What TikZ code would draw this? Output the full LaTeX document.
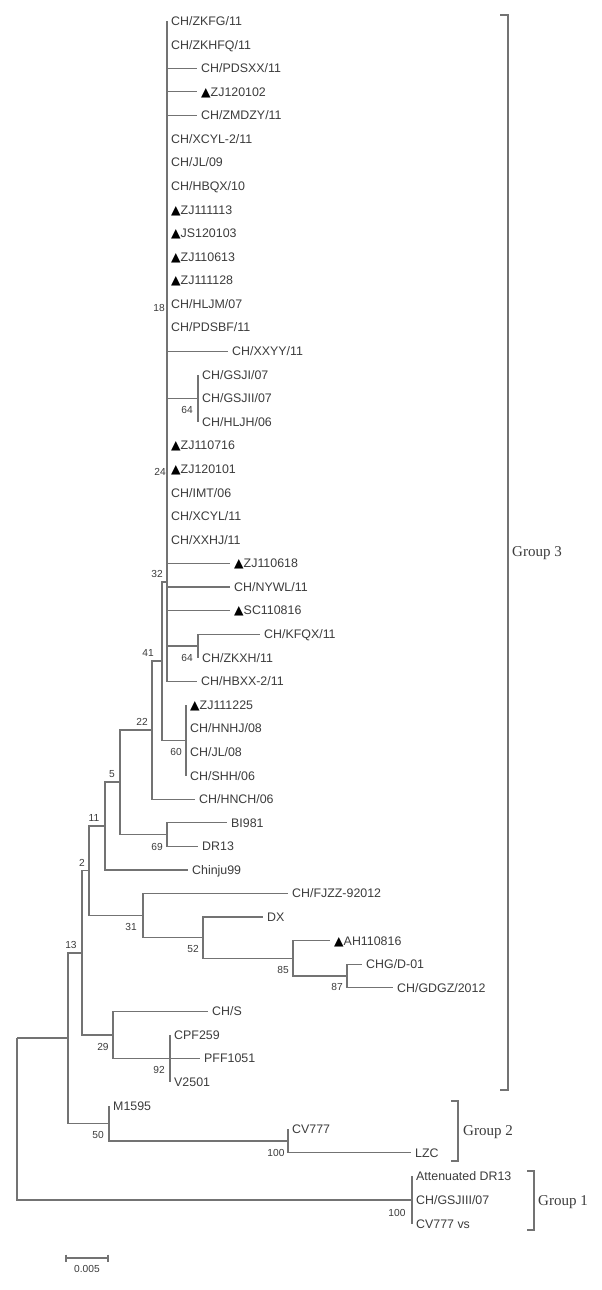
\documentclass[tikz,border=0pt]{standalone}
\usepackage{fontspec}
\setmainfont{Liberation Sans}
\newfontfamily\groupFont{Liberation Serif}
\newfontfamily\symbolFont{DejaVu Sans}
\usepackage{tikz}
\newcommand{\triMark}{{\symbolFont\color{black}▲}}

\begin{document}
\begin{tikzpicture}[x=1pt,y=-1pt,
  branchLine/.style={draw=drawColor,line width=1.2pt},
  leafLabel/.style={anchor=west,inner xsep=4pt,inner ysep=0pt,text=textColor,
    text height=8.9pt,text depth=0pt,font=\fontsize{12.4}{14}\selectfont},
  bootLabel/.style={inner sep=0pt,text=textColor,text height=7.3pt,text depth=0pt,
    font=\fontsize{10.2}{12}\selectfont},
  groupLabel/.style={anchor=west,inner sep=0pt,text=textColor,text height=9.9pt,
    text depth=0pt,font=\groupFont\fontsize{15}{17}\selectfont}]
\definecolor{fillColor}{RGB}{255,255,255}
\definecolor{drawColor}{RGB}{115,115,115}
\definecolor{textColor}{RGB}{60,60,60}
\path[use as bounding box,fill=fillColor] (0,0) rectangle (602,1290);

% leaves
\node[leafLabel] (zkfg) at (167, 21.0) {CH/ZKFG/11};
\node[leafLabel] (zkhfq) at (167, 44.6) {CH/ZKHFQ/11};
\node[leafLabel] (pdsxx) at (197, 68.2) {CH/PDSXX/11};
\node[leafLabel] (zj120102) at (197, 91.7) {\triMark ZJ120102};
\node[leafLabel] (zmdzy) at (197, 115.3) {CH/ZMDZY/11};
\node[leafLabel] (xcyl2) at (167, 138.9) {CH/XCYL-2/11};
\node[leafLabel] (jl09) at (167, 162.5) {CH/JL/09};
\node[leafLabel] (hbqx) at (167, 186.1) {CH/HBQX/10};
\node[leafLabel] (zj111113) at (167, 209.6) {\triMark ZJ111113};
\node[leafLabel] (js120103) at (167, 233.2) {\triMark JS120103};
\node[leafLabel] (zj110613) at (167, 256.8) {\triMark ZJ110613};
\node[leafLabel] (zj111128) at (167, 280.4) {\triMark ZJ111128};
\node[leafLabel] (hljm) at (167, 304.0) {CH/HLJM/07};
\node[leafLabel] (pdsbf) at (167, 327.5) {CH/PDSBF/11};
\node[leafLabel] (xxyy) at (228, 351.1) {CH/XXYY/11};
\node[leafLabel] (gsji) at (198, 374.7) {CH/GSJI/07};
\node[leafLabel] (gsjii) at (198, 398.3) {CH/GSJII/07};
\node[leafLabel] (hljh) at (198, 421.9) {CH/HLJH/06};
\node[leafLabel] (zj110716) at (167, 445.4) {\triMark ZJ110716};
\node[leafLabel] (zj120101) at (167, 469.0) {\triMark ZJ120101};
\node[leafLabel] (imt) at (167, 492.6) {CH/IMT/06};
\node[leafLabel] (xcyl) at (167, 516.2) {CH/XCYL/11};
\node[leafLabel] (xxhj) at (167, 539.8) {CH/XXHJ/11};
\node[leafLabel] (zj110618) at (230, 563.3) {\triMark ZJ110618};
\node[leafLabel] (nywl) at (230, 586.9) {CH/NYWL/11};
\node[leafLabel] (sc110816) at (230, 610.5) {\triMark SC110816};
\node[leafLabel] (kfqx) at (260, 634.1) {CH/KFQX/11};
\node[leafLabel] (zkxh) at (198, 657.7) {CH/ZKXH/11};
\node[leafLabel] (hbxx2) at (197, 681.2) {CH/HBXX-2/11};
\node[leafLabel] (zj111225) at (186, 704.8) {\triMark ZJ111225};
\node[leafLabel] (hnhj) at (186, 728.4) {CH/HNHJ/08};
\node[leafLabel] (jl08) at (186, 752.0) {CH/JL/08};
\node[leafLabel] (shh) at (186, 775.6) {CH/SHH/06};
\node[leafLabel] (hnch) at (195, 799.1) {CH/HNCH/06};
\node[leafLabel] (bi981) at (227, 822.7) {BI981};
\node[leafLabel] (dr13) at (198, 846.3) {DR13};
\node[leafLabel] (chinju) at (188, 869.9) {Chinju99};
\node[leafLabel] (fjzz) at (288, 893.5) {CH/FJZZ-92012};
\node[leafLabel] (dx) at (263, 917.0) {DX};
\node[leafLabel] (ah110816) at (330, 940.6) {\triMark AH110816};
\node[leafLabel] (chgd) at (362, 964.2) {CHG/D-01};
\node[leafLabel] (gdgz) at (393, 987.8) {CH/GDGZ/2012};
\node[leafLabel] (chs) at (208, 1011.4) {CH/S};
\node[leafLabel] (cpf) at (170, 1034.9) {CPF259};
\node[leafLabel] (pff) at (200, 1058.5) {PFF1051};
\node[leafLabel] (v2501) at (170, 1082.1) {V2501};
\node[leafLabel] (m1595) at (109, 1105.7) {M1595};
\node[leafLabel] (cv777) at (288, 1129.3) {CV777};
\node[leafLabel] (lzc) at (411, 1152.8) {LZC};
\node[leafLabel] (attdr13) at (412, 1176.4) {Attenuated DR13};
\node[leafLabel] (gsjiii) at (412, 1200.0) {CH/GSJIII/07};
\node[leafLabel] (cv777vs) at (412, 1223.6) {CV777 vs};

% internal nodes
\coordinate (gsj) at (198, 398.3);
\coordinate (kf) at (198, 645.9);
\coordinate (pA) at (167, 582);
\coordinate (n60) at (186, 740.2);
\coordinate (n32) at (162, 661);
\coordinate (n41) at (152, 730);
\coordinate (n69) at (167, 834.5);
\coordinate (n22) at (120, 782);
\coordinate (n5) at (105, 826);
\coordinate (n87) at (347, 976);
\coordinate (n85) at (293, 958.3);
\coordinate (n52) at (203, 937.6);
\coordinate (n31) at (143, 915.6);
\coordinate (n11) at (89, 870.8);
\coordinate (n92) at (170, 1058.5);
\coordinate (n29) at (113, 1035);
\coordinate (n2) at (82, 952.9);
\coordinate (n100b) at (288, 1141);
\coordinate (n50) at (109, 1123.4);
\coordinate (n13) at (68, 1038);
\coordinate (n100a) at (412, 1200);
\coordinate (root) at (17, 1038);

% branches
\draw[branchLine] (pA) |- (zkfg.west) (pA) |- (zkhfq.west) (pA) |- (pdsxx.west)
  (pA) |- (zj120102.west) (pA) |- (zmdzy.west) (pA) |- (xcyl2.west)
  (pA) |- (jl09.west) (pA) |- (hbqx.west) (pA) |- (zj111113.west)
  (pA) |- (js120103.west) (pA) |- (zj110613.west) (pA) |- (zj111128.west)
  (pA) |- (hljm.west) (pA) |- (pdsbf.west) (pA) |- (xxyy.west) (pA) |- (gsj)
  (pA) |- (zj110716.west) (pA) |- (zj120101.west) (pA) |- (imt.west)
  (pA) |- (xcyl.west) (pA) |- (xxhj.west) (pA) |- (zj110618.west)
  (pA) |- (nywl.west) (pA) |- (sc110816.west) (pA) |- (kf) (pA) |- (hbxx2.west);
\draw[branchLine] (gsj) |- (gsji.west) (gsj) |- (gsjii.west) (gsj) |- (hljh.west);
\draw[branchLine] (kf) |- (kfqx.west) (kf) |- (zkxh.west);
\draw[branchLine] (n32) |- (pA) (n32) |- (n60);
\draw[branchLine] (n60) |- (zj111225.west) (n60) |- (hnhj.west) (n60) |- (jl08.west) (n60) |- (shh.west);
\draw[branchLine] (n41) |- (n32) (n41) |- (hnch.west);
\draw[branchLine] (n22) |- (n41) (n22) |- (n69);
\draw[branchLine] (n69) |- (bi981.west) (n69) |- (dr13.west);
\draw[branchLine] (n5) |- (n22) (n5) |- (chinju.west);
\draw[branchLine] (n11) |- (n5) (n11) |- (n31);
\draw[branchLine] (n31) |- (fjzz.west) (n31) |- (n52);
\draw[branchLine] (n52) |- (dx.west) (n52) |- (n85);
\draw[branchLine] (n85) |- (ah110816.west) (n85) |- (n87);
\draw[branchLine] (n87) |- (chgd.west) (n87) |- (gdgz.west);
\draw[branchLine] (n2) |- (n11) (n2) |- (n29);
\draw[branchLine] (n29) |- (chs.west) (n29) |- (n92);
\draw[branchLine] (n92) |- (cpf.west) (n92) |- (pff.west) (n92) |- (v2501.west);
\draw[branchLine] (n13) |- (n2) (n13) |- (n50);
\draw[branchLine] (n50) |- (m1595.west) (n50) |- (n100b);
\draw[branchLine] (n100b) |- (cv777.west) (n100b) |- (lzc.west);
\draw[branchLine] (root) |- (n13) (root) |- (n100a);
\draw[branchLine] (n100a) |- (attdr13.west) (n100a) |- (gsjiii.west) (n100a) |- (cv777vs.west);

% bootstrap values
\node[bootLabel] (b18) at (159, 308) {18};
\node[bootLabel] (b64a) at (187, 410) {64};
\node[bootLabel] (b24) at (160, 472) {24};
\node[bootLabel] (b32) at (157, 574) {32};
\node[bootLabel] (b41) at (148, 653) {41};
\node[bootLabel] (b64b) at (187, 658) {64};
\node[bootLabel] (b22) at (142, 722) {22};
\node[bootLabel] (b60) at (176, 752) {60};
\node[bootLabel] (b5) at (112, 774) {5};
\node[bootLabel] (b11) at (94, 818) {11};
\node[bootLabel] (b69) at (157, 847) {69};
\node[bootLabel] (b2) at (82, 863) {2};
\node[bootLabel] (b31) at (131, 927) {31};
\node[bootLabel] (b13) at (71, 945) {13};
\node[bootLabel] (b52) at (193, 949) {52};
\node[bootLabel] (b85) at (283, 970) {85};
\node[bootLabel] (b87) at (337, 987) {87};
\node[bootLabel] (b29) at (103, 1047) {29};
\node[bootLabel] (b92) at (159, 1070) {92};
\node[bootLabel] (b50) at (98, 1135) {50};
\node[bootLabel] (b100b) at (276, 1153) {100};
\node[bootLabel] (b100a) at (397, 1213) {100};

% groups
\draw[branchLine] (500,15) -- (508,15) -- (508,1090) -- (500,1090);
\draw[branchLine] (451,1101) -- (458,1101) -- (458,1161) -- (451,1161);
\draw[branchLine] (527,1171) -- (534,1171) -- (534,1230) -- (527,1230);
\node[groupLabel] (group3) at (512, 552) {Group 3};
\node[groupLabel] (group2) at (463, 1131) {Group 2};
\node[groupLabel] (group1) at (538, 1201) {Group 1};

% scale bar
\draw[branchLine] (66,1254.5) -- (66,1261.5) (66,1258) -- (108,1258) (108,1254.5) -- (108,1261.5);
\node[bootLabel] (scaleText) at (87, 1269) {0.005};
\end{tikzpicture}
\end{document}
